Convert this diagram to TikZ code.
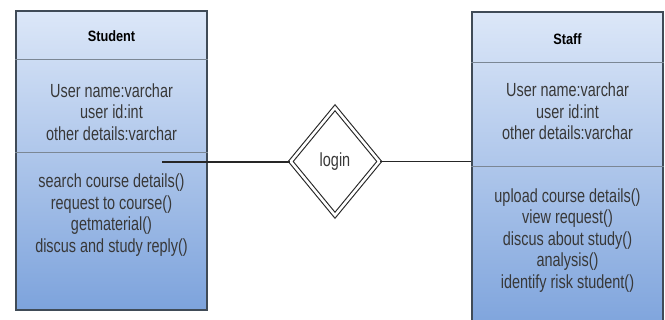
\documentclass[tikz,border=0pt]{standalone}
\usepackage{fontspec}
\usetikzlibrary{shapes.geometric}
\newfontfamily\bodyfont{Liberation Sans}[FakeStretch=0.76]
\newfontfamily\headfont{Liberation Sans}[FakeStretch=0.85]
\definecolor{boxtop}{HTML}{DCE7F8}
\definecolor{boxbottom}{HTML}{7DA3DC}
\definecolor{boxedge}{HTML}{404B57}
\definecolor{divline}{HTML}{7B8794}
\definecolor{ink}{HTML}{383838}
\tikzset{
  classbox/.style={draw=boxedge, line width=1.2pt, top color=boxtop, bottom color=boxbottom,
    rectangle, inner sep=0pt, minimum width=191pt},
  divider/.style={draw=divline, line width=1pt},
  title/.style={font=\headfont\bfseries\fontsize{15}{17}\selectfont, text=black, inner sep=0pt},
  members/.style={font=\bodyfont\fontsize{19}{21.5}\selectfont, text=ink, align=center, inner sep=0pt},
  relation/.style={diamond, draw=black!85, line width=1.1pt, double=white, double distance=2.6pt,
    minimum width=89pt, minimum height=108pt, inner sep=0pt},
  link/.style={draw=black!85, line width=1.2pt}
}
\begin{document}
\begin{tikzpicture}[x=1pt,y=-1pt]
\useasboundingbox (0,0) rectangle (665,320);
\fill[white] (0,0) rectangle (665,320);

% Student class
\node[classbox, minimum height=299pt] (student) at (111.5,160.5) {};
\draw[divider] (student.west |- 0,60) -- (student.east |- 0,60);
\draw[divider] (student.west |- 0,153) -- (student.east |- 0,153);
\node[title] (stitle) at (111.5,36) {Student};
\node[members] (sattr) at (111.5,112) {User name:varchar\\user id:int\\other details:varchar};
\node[members] (sops) at (111.5,215) {search course details()\\request to course()\\getmaterial()\\discus and study reply()};

% Staff class (runs off the lower edge)
\node[classbox, minimum height=320pt] (staff) at (567.5,172) {};
\draw[divider] (staff.west |- 0,63) -- (staff.east |- 0,63);
\draw[divider] (staff.west |- 0,167) -- (staff.east |- 0,167);
\node[title] (ftitle) at (567.5,39) {Staff};
\node[members] (fattr) at (567.5,111.5) {User name:varchar\\user id:int\\other details:varchar};
\node[members] (fops) at (567.5,240.5) {upload course details()\\view request()\\discus about study()\\analysis()\\identify risk student()};

% Relationship
\node[relation] (login) at (335,161.5) {};
\node[members] (ltext) at (login.center) {login};
\coordinate (sfrom) at (162,162);
\draw[link] (sfrom) -- (sfrom -| login.west);
\draw[link] (login.east) -- (login.east -| staff.west);
\end{tikzpicture}
\end{document}
